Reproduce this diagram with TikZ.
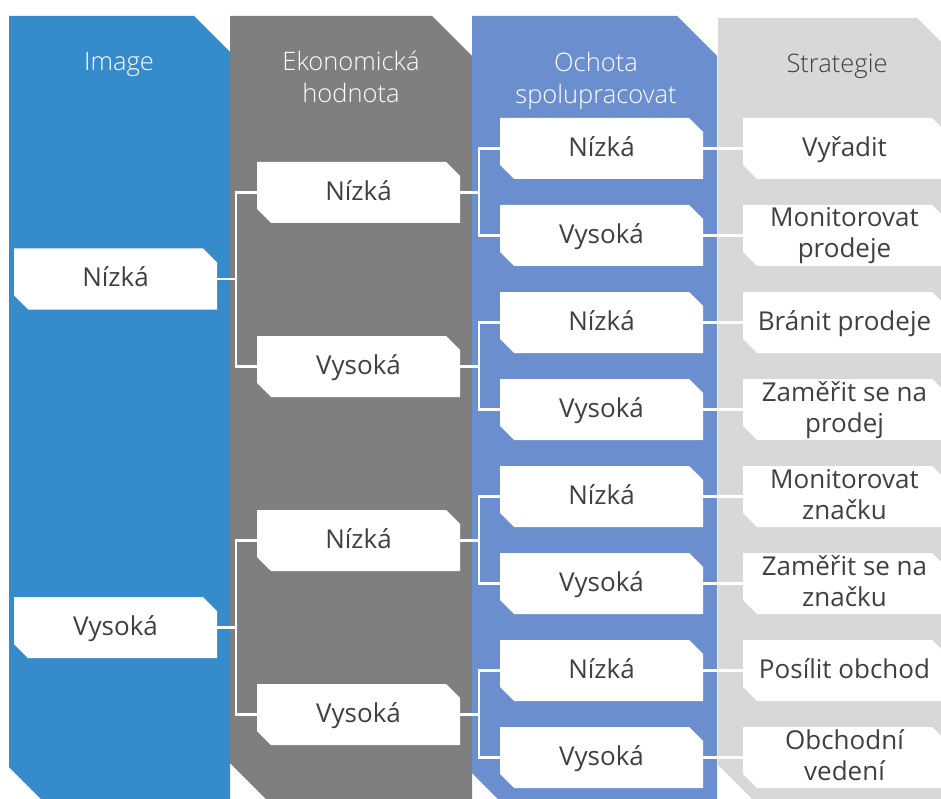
\documentclass[tikz,border=0pt]{standalone}
\usepackage{fontspec}
\setmainfont{Open Sans}
\newfontfamily\thinface{Open Sans Light}
\usetikzlibrary{shapes.misc}
\definecolor{laneA}{HTML}{368BCB}
\definecolor{laneB}{HTML}{7F7F7F}
\definecolor{laneC}{HTML}{6A8ECE}
\definecolor{laneD}{HTML}{D9D8D9}
\definecolor{ink}{HTML}{404040}
\begin{document}
\begin{tikzpicture}[x=1pt,y=-1pt,
  card/.style={chamfered rectangle,
    chamfered rectangle corners={north east,south west},
    chamfered rectangle xsep=7pt, chamfered rectangle ysep=7pt,
    fill=white, draw=none, minimum width=203pt, minimum height=61pt,
    inner sep=0pt, text=ink, align=center,
    font=\fontsize{26}{31}\selectfont},
  one/.style={card, text height=16pt, text depth=0pt},
  two/.style={card, text height=45pt, text depth=0pt},
  head/.style={anchor=base, align=center, text=white,
    font=\thinface\fontsize{25.5}{32}\selectfont},
  wire/.style={draw=white, line width=2.5pt}]
\path[use as bounding box] (0,0) rectangle (941,799);
\clip (0,0) rectangle (941,799);

% lanes
\fill[laneA] (9,16) -- (194,16) -- (230,52) -- (230,810) -- (52,810) -- (9,767) -- cycle;
\fill[laneB] (230,16) -- (432,16) -- (472,56) -- (472,810) -- (277,810) -- (230,763) -- cycle;
\fill[laneC] (472,16) -- (677,16) -- (717,56) -- (717,810) -- (509,810) -- (472,773) -- cycle;
\fill[laneD] (718,18) -- (917,18) -- (957,58) -- (957,810) -- (763,810) -- (718,765) -- cycle;

% lane titles (base anchor sits on the last line)
\node[head] (h1) at (119,71) {Image};
\node[head] (h2) at (351,103) {Ekonomická\\hodnota};
\node[head] (h3) at (596,104) {Ochota\\spolupracovat};
\node[head, text=ink] (h4) at (837,73) {Strategie};

% image
\node[one] (i1) at (115.5,279) {Nízká};
\node[one] (i2) at (115.5,627.5) {Vysoká};

% economic value
\node[one] (e1) at (358.5,192.5) {Nízká};
\node[one] (e2) at (358.5,366.5) {Vysoká};
\node[one] (e3) at (358.5,540.5) {Nízká};
\node[one] (e4) at (358.5,714.5) {Vysoká};

% willingness to cooperate
\foreach \k/\t [count=\n] in {0/Nízká,1/Vysoká,2/Nízká,3/Vysoká,4/Nízká,5/Vysoká,6/Nízká,7/Vysoká}
  \node[one] (o\n) at (601.5,148.5+87*\k) {\t};

% strategy
\node[one] (s1) at (844.5,148.5) {Vyřadit};
\node[two] (s2) at (844.5,235.5) {Monitorovat\\prodeje};
\node[one] (s3) at (844.5,322.5) {Bránit prodeje};
\node[two] (s4) at (844.5,409.5) {Zaměřit se na\\prodej};
\node[two] (s5) at (844.5,496.5) {Monitorovat\\značku};
\node[two] (s6) at (844.5,583.5) {Zaměřit se na\\značku};
\node[one] (s7) at (844.5,670.5) {Posílit obchod};
\node[two] (s8) at (844.5,757.5) {Obchodní\\vedení};

% tree connectors
\draw[wire] (i1.east) -- ([xshift=-21pt]e1.west |- i1.east);
\draw[wire] (e1.west) -- ++(-21,0) |- (e2.west);
\draw[wire] (i2.east) -- ([xshift=-21pt]e3.west |- i2.east);
\draw[wire] (e3.west) -- ++(-21,0) |- (e4.west);
\foreach \e/\a/\b in {1/1/2,2/3/4,3/5/6,4/7/8}{
  \draw[wire] (e\e.east) -- ([xshift=-21pt]o\a.west |- e\e.east);
  \draw[wire] (o\a.west) -- ++(-21,0) |- (o\b.west);
}
\foreach \n in {1,...,8}
  \draw[wire] (o\n.east) -- (s\n.west);
\end{tikzpicture}
\end{document}
